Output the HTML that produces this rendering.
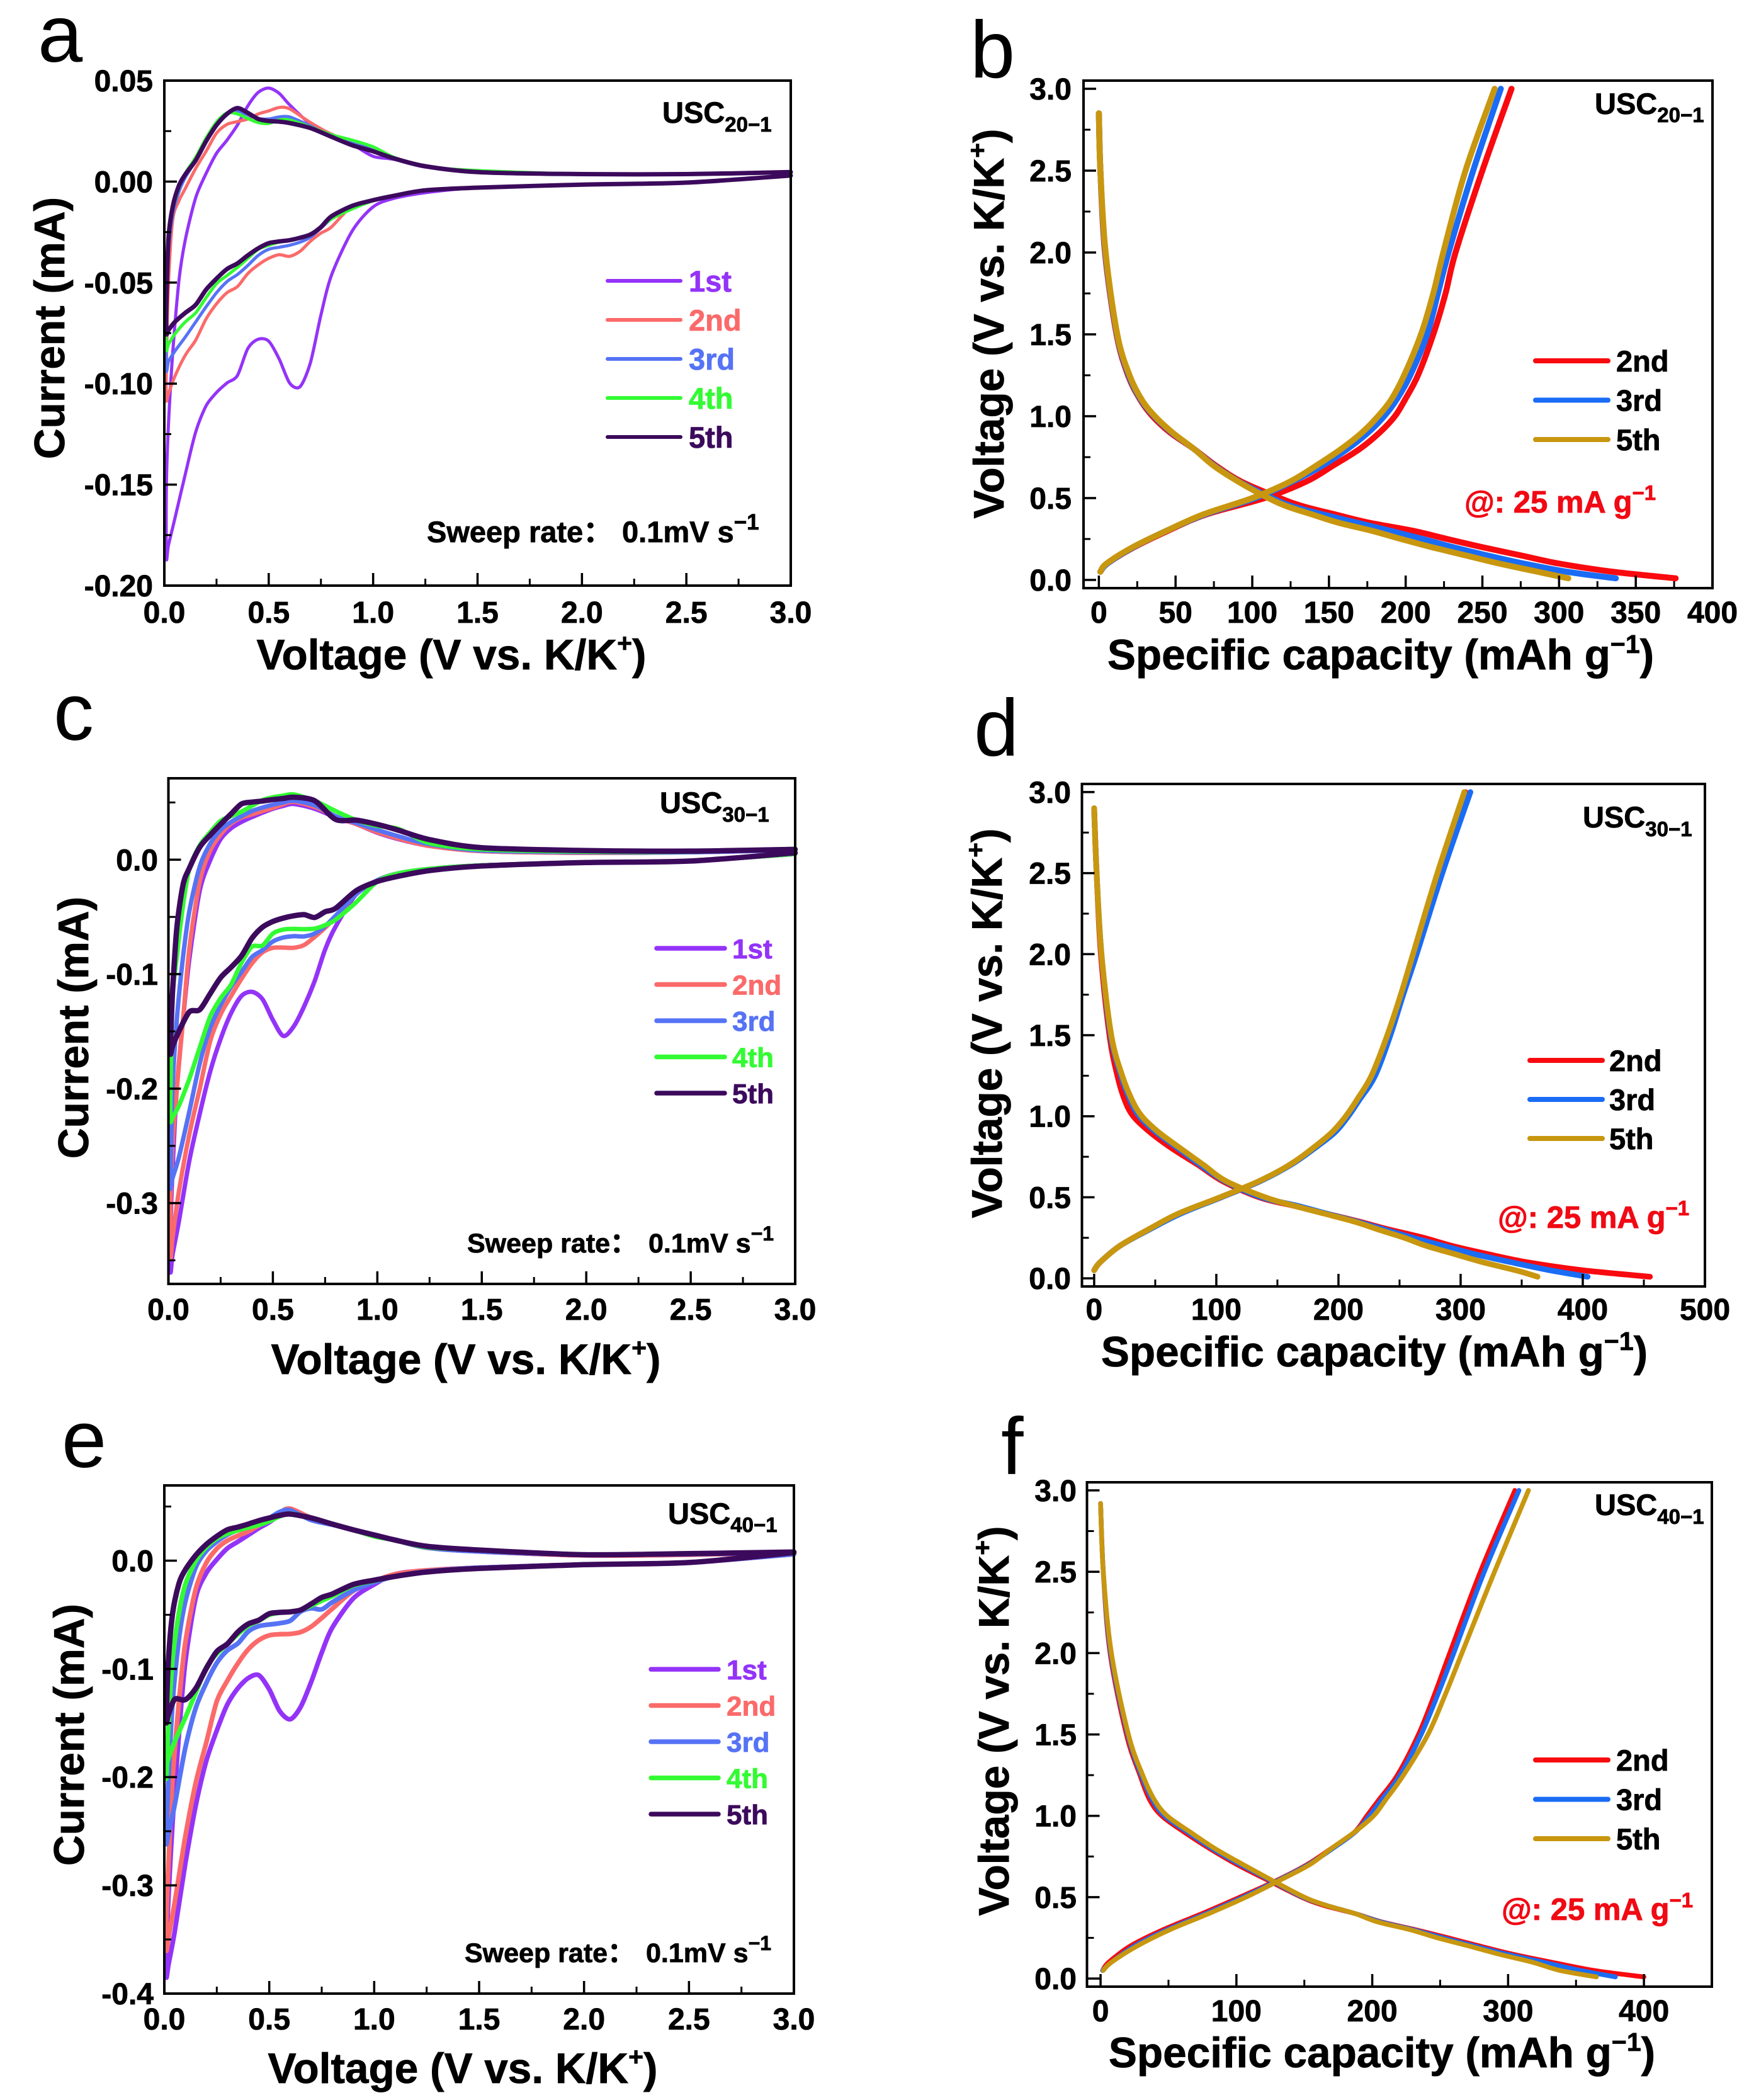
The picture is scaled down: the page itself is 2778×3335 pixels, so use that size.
<!DOCTYPE html>
<html lang="en">
<head>
<meta charset="utf-8">
<title>CV and GCD curves of USC samples</title>
<style>
html,body{margin:0;padding:0;background:#fff;}
svg{display:block;}
text{font-family:"Liberation Sans","Noto Sans CJK SC",sans-serif;font-weight:700;fill:#000;stroke:#000;stroke-width:.8px;}
.letter{font-weight:400;font-size:128px;stroke:none;}
.title{font-size:67.5px;text-anchor:middle;}
.note{font-size:47px;}
.rate{font-size:43px;}
.red{fill:#f00a14;stroke:#f00a14;font-size:49px;}
</style>
</head>
<body>
<svg id="figure" xmlns="http://www.w3.org/2000/svg" width="2778" height="3335" viewBox="0 0 2778 3335">
<rect width="2778" height="3335" fill="#fff"/>

<text class="letter" x="60" y="98">a</text>
<text class="letter" x="1541" y="123">b</text>
<text class="letter" x="85" y="1175">c</text>
<text class="letter" x="1547" y="1200">d</text>
<text class="letter" x="98" y="2330">e</text>
<text class="letter" x="1590" y="2341">f</text>

<!-- Panel a text -->
<text class="title" x="717" y="1063">Voltage (V vs. K/K<tspan font-size="41" dy="-28">+</tspan><tspan dy="28">)</tspan></text>
<text class="title" transform="rotate(-90 102 521)" x="102" y="521">Current (mA)</text>
<text class="note" x="1052" y="195">USC<tspan font-size="33" dy="14">20−1</tspan></text>
<text class="note" x="678" y="861">Sweep rate：<tspan x="988">0.1mV s</tspan><tspan font-size="35" dy="-20">−1</tspan></text>

<!-- Panel b text -->
<text class="title" x="2193" y="1063">Specific capacity (mAh g<tspan font-size="41" dy="-26">−1</tspan><tspan dy="26">)</tspan></text>
<text class="title" transform="rotate(-90 1594 514)" x="1594" y="514">Voltage (V vs. K/K<tspan font-size="41" dy="-28">+</tspan><tspan dy="28">)</tspan></text>
<text class="note" x="2533" y="181">USC<tspan font-size="33" dy="13">20−1</tspan></text>
<text class="red" x="2326" y="814">@: 25 mA g<tspan font-size="33" dy="-20">−1</tspan></text>

<!-- Panel c text -->
<text class="title" x="740" y="2182">Voltage (V vs. K/K<tspan font-size="41" dy="-28">+</tspan><tspan dy="28">)</tspan></text>
<text class="title" transform="rotate(-90 140 1632)" x="140" y="1632">Current (mA)</text>
<text class="note" x="1048" y="1291">USC<tspan font-size="33" dy="14">30−1</tspan></text>
<text class="rate" x="742" y="1989">Sweep rate：<tspan x="1030">0.1mV s</tspan><tspan font-size="32" dy="-19">−1</tspan></text>

<!-- Panel d text -->
<text class="title" x="2183" y="2170">Specific capacity (mAh g<tspan font-size="41" dy="-26">−1</tspan><tspan dy="26">)</tspan></text>
<text class="title" transform="rotate(-90 1591 1625)" x="1591" y="1625">Voltage (V vs. K/K<tspan font-size="41" dy="-28">+</tspan><tspan dy="28">)</tspan></text>
<text class="note" x="2514" y="1314">USC<tspan font-size="33" dy="14">30−1</tspan></text>
<text class="red" x="2379" y="1950">@: 25 mA g<tspan font-size="33" dy="-20">−1</tspan></text>

<!-- Panel e text -->
<text class="title" x="735" y="3308">Voltage (V vs. K/K<tspan font-size="41" dy="-28">+</tspan><tspan dy="28">)</tspan></text>
<text class="title" transform="rotate(-90 133 2755)" x="133" y="2755">Current (mA)</text>
<text class="note" x="1061" y="2420">USC<tspan font-size="33" dy="13">40−1</tspan></text>
<text class="rate" x="738" y="3116">Sweep rate：<tspan x="1026">0.1mV s</tspan><tspan font-size="32" dy="-19">−1</tspan></text>

<!-- Panel f text -->
<text class="title" x="2195" y="3283">Specific capacity (mAh g<tspan font-size="41" dy="-26">−1</tspan><tspan dy="26">)</tspan></text>
<text class="title" transform="rotate(-90 1602 2733)" x="1602" y="2733">Voltage (V vs. K/K<tspan font-size="41" dy="-28">+</tspan><tspan dy="28">)</tspan></text>
<text class="note" x="2533" y="2406">USC<tspan font-size="33" dy="14">40−1</tspan></text>
<text class="red" x="2385" y="3049">@: 25 mA g<tspan font-size="33" dy="-20">−1</tspan></text>
</svg>

<script>
// ---------- CV sweep voltage grids (V) ----------
const sweepDownVoltage = [3,2.5,2,1.5,1.25,1.1,1,.9,.8,.75,.7,.65,.6,.55,.5,.45,.4,.35,.3,.25,.2,.15,.1,.05,.02,.01];
const sweepUpVoltage = [.01,.02,.04,.07,.1,.15,.2,.25,.3,.35,.4,.45,.5,.55,.6,.7,.8,.9,1,1.1,1.25,1.5,2,2.5,3];

// ---------- Panel a currents (mA) ----------
const a1stDown = [.003,-.0005,-.0015,-.003,-.0055,-.0083,-.0125,-.0244,-.0465,-.066,-.0895,-.1015,-.0997,-.0878,-.079,-.078,-.0826,-.096,-.0997,-.1044,-.111,-.124,-.145,-.167,-.18,-.186];
const a1stUp = [-.15,-.12,-.085,-.049,-.029,-.008,.004,.014,.0205,.028,.0375,.0442,.0463,.0437,.038,.0285,.0235,.0185,.0125,.011,.0072,.0045,.0035,.004,.0045];
const a2ndDown = [.003,-.0005,-.0015,-.003,-.0043,-.007,-.0092,-.012,-.0225,-.0255,-.0295,-.0345,-.037,-.0362,-.038,-.0412,-.0455,-.052,-.055,-.0605,-.068,-.0785,-.086,-.0965,-.105,-.108];
const a2ndUp = [-.09,-.05,-.019,-.0095,-.0035,.0065,.015,.024,.0283,.0297,.031,.0335,.035,.0367,.036,.0292,.0235,.0195,.0155,.0115,.0075,.005,.0038,.0037,.0047];
const a3rdDown = [.003,-.0005,-.0015,-.003,-.0043,-.007,-.0092,-.012,-.0185,-.023,-.0275,-.03,-.0315,-.0325,-.0335,-.0365,-.0415,-.046,-.0495,-.055,-.062,-.0695,-.077,-.084,-.089,-.093];
const a3rdUp = [-.065,-.035,-.016,-.005,.002,.0105,.02,.028,.0335,.035,.033,.0312,.031,.032,.032,.0275,.0225,.0195,.0155,.0115,.0075,.0052,.0037,.004,.0047];
const a4thDown = [.003,-.0005,-.0015,-.003,-.0043,-.007,-.0095,-.0135,-.0185,-.0225,-.0258,-.0278,-.029,-.03,-.0315,-.0335,-.038,-.0425,-.0465,-.0505,-.0575,-.065,-.0695,-.0755,-.0805,-.083];
const a4thUp = [-.065,-.03,-.014,-.003,.004,.012,.0215,.0295,.034,.0335,.0312,.0292,.0288,.0305,.0305,.027,.0232,.0205,.0172,.012,.0075,.0055,.0038,.0038,.0047];
const a5thDown = [.003,-.0005,-.0015,-.003,-.0043,-.007,-.0092,-.012,-.0172,-.0225,-.0262,-.0278,-.029,-.0296,-.0305,-.033,-.0365,-.0405,-.0433,-.048,-.0535,-.061,-.065,-.0695,-.0735,-.075];
const a5thUp = [-.06,-.028,-.0125,-.002,.0035,.0105,.02,.028,.0335,.0364,.034,.031,.03,.0297,.029,.0265,.0222,.018,.015,.0115,.0076,.0047,.0037,.0037,.0047];

// ---------- Panel c currents (mA) ----------
const c1stDown = [.005,-.001,-.0025,-.005,-.008,-.012,-.018,-.03,-.0585,-.0785,-.106,-.128,-.1456,-.154,-.14,-.1218,-.1154,-.119,-.134,-.1565,-.185,-.222,-.263,-.316,-.345,-.36];
const c1stUp = [-.32,-.27,-.2,-.14,-.087,-.027,-.0005,.018,.0275,.033,.0372,.041,.0445,.047,.0487,.0445,.037,.031,.0235,.018,.012,.0075,.006,.0065,.0085];
const c2ndDown = [.005,-.001,-.0025,-.005,-.008,-.012,-.018,-.03,-.05,-.0595,-.0675,-.0745,-.077,-.0768,-.077,-.081,-.0906,-.104,-.119,-.135,-.1585,-.2,-.24,-.29,-.33,-.347];
const c2ndUp = [-.3,-.25,-.2,-.14,-.078,-.019,.008,.022,.0315,.0368,.0395,.0425,.0452,.0485,.0506,.046,.038,.031,.024,.0185,.012,.0075,.006,.0065,.0085];
const c3rdDown = [.005,-.001,-.0025,-.005,-.008,-.012,-.018,-.03,-.049,-.058,-.0645,-.067,-.0668,-.068,-.0715,-.079,-.085,-.098,-.111,-.127,-.147,-.178,-.22,-.26,-.278,-.286];
const c3rdUp = [-.28,-.2,-.14,-.085,-.045,-.006,.014,.026,.033,.038,.0425,.0455,.048,.05,.0515,.0475,.038,.032,.026,.0205,.0135,.008,.0065,.0065,.0085];
const c4thDown = [.005,-.001,-.0025,-.005,-.008,-.012,-.019,-.037,-.0525,-.0572,-.0602,-.0607,-.0604,-.061,-.0645,-.075,-.076,-.09,-.109,-.121,-.137,-.164,-.1915,-.215,-.225,-.228];
const c4thUp = [-.2,-.12,-.085,-.04,-.008,.0125,.024,.034,.038,.042,.047,.052,.0545,.056,.057,.0515,.0425,.0345,.0295,.027,.0145,.009,.007,.007,.0095];
const c5thDown = [.006,-.0012,-.0025,-.0055,-.0095,-.0145,-.019,-.027,-.0425,-.0455,-.0505,-.048,-.049,-.051,-.054,-.059,-.0686,-.084,-.094,-.103,-.117,-.131,-.133,-.15,-.163,-.17];
const c5thUp = [-.16,-.115,-.06,-.022,-.0075,.011,.0215,.031,.04,.0487,.0503,.0512,.0525,.0535,.0546,.0515,.0352,.0345,.0308,.0258,.0175,.0105,.008,.0075,.009];

// ---------- Panel e currents (mA) ----------
const e1stDown = [.006,-.0017,-.0037,-.0065,-.009,-.0125,-.022,-.035,-.062,-.085,-.112,-.135,-.1465,-.139,-.119,-.1058,-.1085,-.118,-.133,-.157,-.185,-.226,-.28,-.342,-.373,-.385];
const e1stUp = [-.36,-.31,-.24,-.16,-.094,-.034,-.0115,.001,.0113,.0175,.0237,.03,.0355,.042,.0445,.0395,.0338,.0285,.024,.019,.012,.0085,.005,.0055,.0075];
const e2ndDown = [.006,-.0017,-.0037,-.0065,-.009,-.0125,-.019,-.028,-.0445,-.053,-.061,-.066,-.0677,-.068,-.069,-.0735,-.082,-.095,-.111,-.13,-.168,-.205,-.255,-.315,-.348,-.36];
const e2ndUp = [-.33,-.28,-.2,-.13,-.076,-.026,-.002,.011,.0185,.023,.027,.0325,.039,.0445,.048,.0395,.0338,.0285,.024,.019,.012,.0085,.005,.0055,.0075];
const e3rdDown = [.006,-.0017,-.0037,-.0065,-.01,-.0145,-.02,-.0275,-.0385,-.045,-.044,-.047,-.0555,-.0578,-.059,-.0605,-.0655,-.0765,-.083,-.0945,-.113,-.136,-.173,-.225,-.252,-.262];
const e3rdUp = [-.25,-.2,-.13,-.072,-.038,-.006,.009,.0175,.024,.0285,.033,.036,.0395,.045,.0465,.0375,.0332,.0285,.024,.019,.012,.0085,.0055,.006,.0075];
const e4thDown = [.0074,-.0017,-.0037,-.007,-.0105,-.0145,-.0185,-.023,-.0328,-.037,-.0415,-.0455,-.047,-.048,-.05,-.0555,-.06,-.068,-.077,-.086,-.0985,-.122,-.145,-.167,-.182,-.19];
const e4thUp = [-.2,-.15,-.09,-.048,-.022,0,.0125,.0205,.025,.028,.0307,.033,.0365,.041,.0434,.0395,.0338,.0285,.0225,.019,.0125,.0098,.0055,.0065,.008];
const e5thDown = [.0074,-.0017,-.0037,-.0072,-.0105,-.0145,-.018,-.022,-.0308,-.034,-.04,-.0455,-.0473,-.0478,-.049,-.055,-.0585,-.066,-.077,-.084,-.0995,-.118,-.1285,-.128,-.142,-.15];
const e5thUp = [-.14,-.09,-.048,-.021,-.0085,.005,.015,.0225,.0285,.031,.0338,.037,.0395,.0418,.043,.0395,.0338,.0285,.0237,.019,.0133,.0098,.0055,.0065,.008];

// ---------- GCD voltage grids (V) ----------
const bDischargeVoltage = [2.85,2.5,2,1.5,1.25,1.1,1,.9,.8,.7,.6,.5,.45,.4,.35,.3,.25,.2,.15,.1,.05,.01];
const dDischargeVoltage = [2.9,2.5,2,1.5,1.25,1.1,1,.9,.8,.7,.6,.5,.45,.4,.35,.3,.25,.2,.15,.1,.05,.01];
const fDischargeVoltage = [2.92,2.5,2,1.5,1.25,1.1,1,.9,.8,.7,.6,.5,.45,.4,.35,.3,.25,.2,.15,.1,.05,.01];
const chargeVoltage = [.05,.1,.2,.3,.4,.5,.6,.7,.8,.9,1,1.1,1.25,1.5,1.75,2,2.5,3];

// ---------- Panel b capacities (mAh/g) ----------
const b2ndDischarge = [0,1,4,11.5,19,27,35,46.5,62,76,93,118,133,154,176,205,227,250,275,300,335,376];
const b3rdDischarge = [0,1,4.2,11.8,19.5,27.5,36,47.5,62,75,91.5,113,126,146,168,190,211,231,253,277,305,337];
const b5thDischarge = [0,1,4.4,12,20,28,36.5,48,62,74.5,91,110.5,122.5,139,156,178,197,217,239,261,286,306];
const b2ndCharge = [1,5.5,23,45,70,108,135,153,170,183,193,199.5,208,218,226,232.5,250,269];
const b3rdCharge = [1,5.5,22.5,44,69,102,126,146,162,175.5,186,194,203,214,221,228,244,262];
const b5thCharge = [1,5,22,44,68,100,124.5,142,158,171.5,182,190.5,199,210,218,224.5,239,258];

// ---------- Panel d capacities (mAh/g) ----------
const d2ndDischarge = [0,2,5.5,12.5,19,25,32,46,64,85,105,135,162,190,217,242,270,293,322,354,400,455];
const d3rdDischarge = [0,2,6,13.5,22,29.5,37,51,69,87,107,137,165,190,215,238,261,286,311,341,373,404];
const d5thDischarge = [0,2,6,14,23,31,39,53,71,89.5,108,140,162.5,188,213,233,254,272,295,318,345,363];
const d2ndCharge = [0,5,21,44,70,104,136,160,179,195,207,216,228,241,251.5,262,282,304];
const d3rdCharge = [0,5,21,45,71,104,136,161,180,197,208,217,230,242.5,253,264,285,308];
const d5thCharge = [0,5,21,44,69,103,135,160,178.5,194.5,206,215,227,240,251,261,281,303];

// ---------- Panel f capacities (mAh/g) ----------
const f2ndDischarge = [0,2,7,19,29,36,45,61.5,80,100.5,124,148,164,187,206,232,256,279,303,332,363,400];
const f3rdDischarge = [0,2,7.5,20,30,38,47,64,82,103,126,149,166,187,205,230,252,275,299,326,353,379];
const f5thDischarge = [0,2,8,20.5,31,39.5,49,66,84,105,127,150,166,187,203,228,248,271,293,318,338,365];
const f2ndCharge = [1.5,6,22,46,75,102.5,129,152,170,187,196,205,218.5,234,246,257,279.6,305];
const f3rdCharge = [1.5,8,25,49,78,105,130,153,171,187.5,198,207,220.5,236,248.5,260,282.5,308];
const f5thCharge = [2,8,27,51,80,107,131,154,170,187,201,210,223,241,254,266,290,315];

// ---------- Tick values and labels ----------
const voltageTicks = [0,.5,1,1.5,2,2.5,3];
const voltageTickLabels = ['0.0','0.5','1.0','1.5','2.0','2.5','3.0'];
const voltageMinorTicks = [.25,.75,1.25,1.75,2.25,2.75];
const aCurrentTicks = [.05,0,-.05,-.1,-.15,-.2];
const aCurrentLabels = ['0.05','0.00','-0.05','-0.10','-0.15','-0.20'];
const aCurrentMinor = [.025,-.025,-.075,-.125,-.175];
const cCurrentTicks = [0,-.1,-.2,-.3];
const cCurrentLabels = ['0.0','-0.1','-0.2','-0.3'];
const cCurrentMinor = [.05,-.05,-.15,-.25,-.35];
const eCurrentTicks = [0,-.1,-.2,-.3,-.4];
const eCurrentLabels = ['0.0','-0.1','-0.2','-0.3','-0.4'];
const eCurrentMinor = [.05,-.05,-.15,-.25,-.35];
const bCapacityTicks = [0,50,100,150,200,250,300,350,400];
const bCapacityMinor = [25,75,125,175,225,275,325,375];
const dCapacityTicks = [0,100,200,300,400,500];
const dCapacityMinor = [50,150,250,350,450];
const fCapacityTicks = [0,100,200,300,400];
const fCapacityMinor = [50,150,250,350,450];

// ---------- Series labels and colours ----------
const cvSeriesNames = ['1st','2nd','3rd','4th','5th'];
const cvSeriesColors = ['#9433f8','#fb6a6a','#5673f5','#33fb33','#3c0a5c'];
const gcdSeriesNames = ['2nd','3rd','5th'];
const gcdSeriesColors = ['#f80a0f','#1a6cf5','#c8970f'];

const NS = 'http://www.w3.org/2000/svg';
const figure = document.getElementById('figure');

function makeNode(tag, attrs, parent) {
  const node = document.createElementNS(NS, tag);
  for (const key in attrs) node.setAttribute(key, attrs[key]);
  parent.appendChild(node);
  return node;
}
function linearScale(domain, range) {
  return v => range[0] + (v - domain[0]) / (domain[1] - domain[0]) * (range[1] - range[0]);
}
function smoothPath(points, k) {
  let d = 'M' + points[0][0].toFixed(1) + ' ' + points[0][1].toFixed(1);
  for (let i = 0; i < points.length - 1; i++) {
    const p0 = points[Math.max(i - 1, 0)], p1 = points[i], p2 = points[i + 1], p3 = points[Math.min(i + 2, points.length - 1)];
    const c1 = [p1[0] + (p2[0] - p0[0]) / k, p1[1] + (p2[1] - p0[1]) / k];
    const c2 = [p2[0] - (p3[0] - p1[0]) / k, p2[1] - (p3[1] - p1[1]) / k];
    d += 'C' + c1[0].toFixed(1) + ' ' + c1[1].toFixed(1) + ' ' + c2[0].toFixed(1) + ' ' + c2[1].toFixed(1) + ' ' + p2[0].toFixed(1) + ' ' + p2[1].toFixed(1);
  }
  return d;
}

function drawAxes(panel, g, sx, sy) {
  const f = panel.frame;
  const frameRect = makeNode('rect', {x: f.l, y: f.t, width: f.r - f.l, height: f.b - f.t, fill: 'none', stroke: '#000', 'stroke-width': 4}, g);
  
  

  panel.xTicks.forEach((v, i) => {
    const tick = makeNode('line', {x1: sx(v), x2: sx(v), y1: f.b, y2: f.b - 20, stroke: '#000', 'stroke-width': 3.5}, g);
    
    
    const label = makeNode('text', {x: sx(v), y: panel.xLabelY, 'font-size': 48, 'text-anchor': 'middle'}, g);
    label.textContent = panel.xLabels[i];
    
    
  });
  panel.xMinor.forEach(v => {
    const tick = makeNode('line', {x1: sx(v), x2: sx(v), y1: f.b, y2: f.b - 11, stroke: '#000', 'stroke-width': 3}, g);
    
    
  });
  panel.yTicks.forEach((v, i) => {
    const tick = makeNode('line', {x1: f.l, x2: f.l + 20, y1: sy(v), y2: sy(v), stroke: '#000', 'stroke-width': 3.5}, g);
    
    
    const label = makeNode('text', {x: panel.yLabelX, y: sy(v) + 17, 'font-size': 48, 'text-anchor': 'end'}, g);
    label.textContent = panel.yLabels[i];
    
    
  });
  panel.yMinor.forEach(v => {
    const tick = makeNode('line', {x1: f.l, x2: f.l + 11, y1: sy(v), y2: sy(v), stroke: '#000', 'stroke-width': 3}, g);
    
    
  });
}

function drawLegend(panel, g, names, colors, colouredText) {
  const lg = panel.legend;
  names.forEach((name, i) => {
    const y = lg.y0 + lg.dy * i;
    const swatch = makeNode('line', {x1: lg.x1, x2: lg.x2, y1: y, y2: y, stroke: colors[i], 'stroke-width': lg.width, 'stroke-linecap': 'round'}, g);
    
    
    const label = makeNode('text', {x: lg.tx, y: y + lg.size * 0.36, 'font-size': lg.size}, g);
    label.textContent = name;
    if (colouredText) {
      label.style.fill = colors[i];
      label.style.stroke = colors[i];
    }
    
    
  });
}

function drawCvPanel(panel) {
  const g = makeNode('g', {}, figure);
  
  
  const f = panel.frame;
  const sx = linearScale(panel.xDomain, [f.l, f.r]);
  const sy = linearScale(panel.yDomain, [f.b, f.t]);
  panel.series.forEach((s, i) => {
    const pts = sweepDownVoltage.map((v, k) => [sx(v), sy(s.down[k])])
      .concat(sweepUpVoltage.map((v, k) => [sx(v), sy(s.up[k])]));
    const strokeWidth = i === 4 ? panel.lastWidth : panel.width;
    const curve = makeNode('path', {d: smoothPath(pts, 7), fill: 'none', stroke: cvSeriesColors[i], 'stroke-width': strokeWidth, 'stroke-linejoin': 'round', 'stroke-linecap': 'round'}, g);
    
    
  });
  drawAxes(panel, g, sx, sy);
  drawLegend(panel, g, cvSeriesNames, cvSeriesColors, true);
}

function drawGcdPanel(panel) {
  const g = makeNode('g', {}, figure);
  
  
  const f = panel.frame;
  const sx = linearScale(panel.xDomain, [f.l, f.r]);
  const sy = linearScale(panel.yDomain, [f.b, f.t]);
  panel.series.forEach((s, i) => {
    const discharge = panel.dischargeVoltage.map((v, k) => [sx(s.discharge[k]), sy(v)]);
    const charge = chargeVoltage.map((v, k) => [sx(s.charge[k]), sy(v)]);
    const dPath = makeNode('path', {d: smoothPath(discharge, 6), fill: 'none', stroke: gcdSeriesColors[i], 'stroke-width': panel.width, 'stroke-linejoin': 'round', 'stroke-linecap': 'round'}, g);
    
    
    const cPath = makeNode('path', {d: smoothPath(charge, 6), fill: 'none', stroke: gcdSeriesColors[i], 'stroke-width': panel.width, 'stroke-linejoin': 'round', 'stroke-linecap': 'round'}, g);
    
    
  });
  drawAxes(panel, g, sx, sy);
  drawLegend(panel, g, gcdSeriesNames, gcdSeriesColors, false);
}

drawCvPanel({
  id: 'a', frame: {l: 261, r: 1256, t: 128, b: 930}, xDomain: [0, 3], yDomain: [-.2, .05],
  xTicks: voltageTicks, xLabels: voltageTickLabels, xMinor: voltageMinorTicks, xLabelY: 989,
  yTicks: aCurrentTicks, yLabels: aCurrentLabels, yMinor: aCurrentMinor, yLabelX: 243, width: 5, lastWidth: 7,
  legend: {x1: 965, x2: 1081, tx: 1094, y0: 446, dy: 62, size: 47, width: 6},
  series: [
    {down: a1stDown, up: a1stUp}, {down: a2ndDown, up: a2ndUp}, {down: a3rdDown, up: a3rdUp},
    {down: a4thDown, up: a4thUp}, {down: a5thDown, up: a5thUp}
  ]
});
drawGcdPanel({
  id: 'b', frame: {l: 1721, r: 2720, t: 128, b: 934}, xDomain: [-10, 400], yDomain: [-.05, 3.05],
  xTicks: bCapacityTicks, xLabels: bCapacityTicks.map(String), xMinor: bCapacityMinor, xLabelY: 989,
  yTicks: voltageTicks, yLabels: voltageTickLabels, yMinor: voltageMinorTicks, yLabelX: 1702, width: 9.5,
  legend: {x1: 2439, x2: 2554, tx: 2567, y0: 573, dy: 62.5, size: 47, width: 8},
  dischargeVoltage: bDischargeVoltage,
  series: [
    {discharge: b2ndDischarge, charge: b2ndCharge}, {discharge: b3rdDischarge, charge: b3rdCharge}, {discharge: b5thDischarge, charge: b5thCharge}
  ]
});
drawCvPanel({
  id: 'c', frame: {l: 267.5, r: 1263, t: 1236, b: 2039}, xDomain: [0, 3], yDomain: [-.3706, .0711],
  xTicks: voltageTicks, xLabels: voltageTickLabels, xMinor: voltageMinorTicks, xLabelY: 2096,
  yTicks: cCurrentTicks, yLabels: cCurrentLabels, yMinor: cCurrentMinor, yLabelX: 251, width: 7, lastWidth: 8.5,
  legend: {x1: 1043, x2: 1151, tx: 1163, y0: 1506, dy: 57.5, size: 44, width: 7.5},
  series: [
    {down: c1stDown, up: c1stUp}, {down: c2ndDown, up: c2ndUp}, {down: c3rdDown, up: c3rdUp},
    {down: c4thDown, up: c4thUp}, {down: c5thDown, up: c5thUp}
  ]
});
drawGcdPanel({
  id: 'd', frame: {l: 1718.5, r: 2708, t: 1245, b: 2043}, xDomain: [-10, 500], yDomain: [-.05, 3.05],
  xTicks: dCapacityTicks, xLabels: dCapacityTicks.map(String), xMinor: dCapacityMinor, xLabelY: 2096,
  yTicks: voltageTicks, yLabels: voltageTickLabels, yMinor: voltageMinorTicks, yLabelX: 1701, width: 9,
  legend: {x1: 2430, x2: 2545, tx: 2556, y0: 1684, dy: 62, size: 47, width: 8},
  dischargeVoltage: dDischargeVoltage,
  series: [
    {discharge: d2ndDischarge, charge: d2ndCharge}, {discharge: d3rdDischarge, charge: d3rdCharge}, {discharge: d5thDischarge, charge: d5thCharge}
  ]
});
drawCvPanel({
  id: 'e', frame: {l: 261, r: 1261, t: 2359, b: 3166}, xDomain: [0, 3], yDomain: [-.4, .0695],
  xTicks: voltageTicks, xLabels: voltageTickLabels, xMinor: voltageMinorTicks, xLabelY: 3223,
  yTicks: eCurrentTicks, yLabels: eCurrentLabels, yMinor: eCurrentMinor, yLabelX: 244, width: 7.5, lastWidth: 8.5,
  legend: {x1: 1034, x2: 1141, tx: 1154, y0: 2651, dy: 57.5, size: 44, width: 7.5},
  series: [
    {down: e1stDown, up: e1stUp}, {down: e2ndDown, up: e2ndUp}, {down: e3rdDown, up: e3rdUp},
    {down: e4thDown, up: e4thUp}, {down: e5thDown, up: e5thUp}
  ]
});
drawGcdPanel({
  id: 'f', frame: {l: 1726.5, r: 2719, t: 2354, b: 3155}, xDomain: [-10, 450], yDomain: [-.05, 3.05],
  xTicks: fCapacityTicks, xLabels: fCapacityTicks.map(String), xMinor: fCapacityMinor, xLabelY: 3210,
  yTicks: voltageTicks, yLabels: voltageTickLabels, yMinor: voltageMinorTicks, yLabelX: 1710, width: 7.5,
  legend: {x1: 2439, x2: 2554, tx: 2567, y0: 2795, dy: 62.5, size: 47, width: 8},
  dischargeVoltage: fDischargeVoltage,
  series: [
    {discharge: f2ndDischarge, charge: f2ndCharge}, {discharge: f3rdDischarge, charge: f3rdCharge}, {discharge: f5thDischarge, charge: f5thCharge}
  ]
});
</script>
</body>
</html>
